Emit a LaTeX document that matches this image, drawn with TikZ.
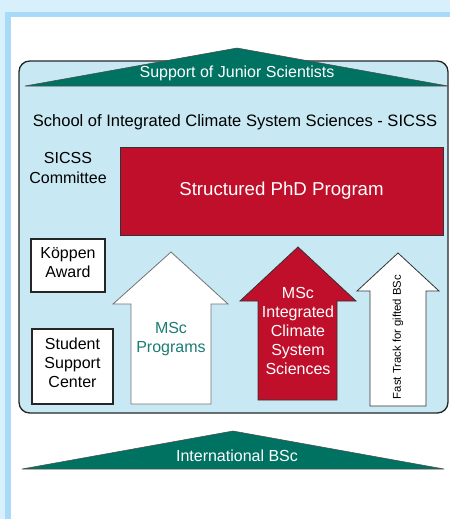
\documentclass[tikz,border=0pt]{standalone}
\usepackage{fontspec}
\setmainfont{Liberation Sans}
\definecolor{slidebg}{HTML}{D8EFFC}
\definecolor{slideedge}{HTML}{A9DBF8}
\definecolor{schoolbg}{HTML}{C8E9F3}
\definecolor{sicssgreen}{HTML}{007262}
\definecolor{sicssred}{HTML}{C00F2B}
\definecolor{msctext}{HTML}{1B7D73}
\begin{document}
\begin{tikzpicture}[x=0.75pt,y=0.75pt]
\tikzstyle{every node}+=[inner sep=0pt, align=center, font=\fontsize{12}{14.3}\selectfont]
\tikzstyle{roof}=[fill=sicssgreen, draw=black!70, line width=0.4pt]
\tikzstyle{infobox}=[draw=black!85, fill=white, line width=0.9pt]
\tikzstyle{whitearrow}=[fill=white, draw=black!55, line width=0.6pt]
\tikzstyle{redarrow}=[fill=sicssred, draw=black!80, line width=0.6pt]
\useasboundingbox (0,0) rectangle (450,-519);
% slide frame
\fill [slidebg] (0,0) rectangle (450,-519);
\fill [slideedge] (5,-12) rectangle (450,-519);
\fill [white] (11,-17) rectangle (450,-519);
% school box
\draw [black!85, line width=1pt, fill=schoolbg, rounded corners=8] (19,-61) rectangle (448,-413);
\draw [roof] (25,-86) -- (237,-48) -- (448,-86) -- cycle;
\node [white] (junior) at (237,-73) {Support of Junior Scientists};
\node [font=\fontsize{12.4}{15}\selectfont] (school) at (235,-122) {School of Integrated Climate System Sciences - SICSS};
\node (committee) at (68,-168) {SICSS\\Committee};
\node [draw=black!80, fill=sicssred, line width=0.6pt, minimum width=242.25pt, minimum height=66pt, text=white, font=\fontsize{14}{17}\selectfont] (phd) at (281.5,-191) {Structured PhD Program};
\node [infobox, minimum width=55.5pt, minimum height=39.75pt] (koeppen) at (68,-265.5) {};
\node (koeppentext) at ([yshift=2.5pt]koeppen.center) {Köppen\\Award};
\node [infobox, minimum width=60.75pt, minimum height=56.25pt] (support) at (72.5,-366.5) {};
\node (supporttext) at ([yshift=3pt]support.center) {Student\\Support\\Center};
% arrows
\draw [whitearrow] (131,-404) -- (131,-304) -- (113,-304) -- (171,-252) -- (228,-304) -- (211,-304) -- (211,-404) -- cycle;
\node [text=msctext] (mscprog) at (171,-339) {MSc\\Programs};
\draw [redarrow] (258,-400) -- (258,-301) -- (240,-301) -- (298,-247) -- (356,-301) -- (337,-301) -- (337,-400) -- cycle;
\node [white] (mscicss) at (298,-331) {MSc\\Integrated\\Climate\\System\\Sciences};
\draw [whitearrow, draw=black!80] (370,-406) -- (370,-291) -- (357,-291) -- (398,-253) -- (439,-291) -- (426,-291) -- (426,-406) -- cycle;
\node [rotate=90, font=\fontsize{8.5}{10}\selectfont] (fasttrack) at (398,-337) {Fast Track for gifted BSc};
% bachelor
\draw [roof] (22,-469) -- (233,-431) -- (444,-469) -- cycle;
\node [white] (bsc) at (237,-456) {International BSc};
\end{tikzpicture}
\end{document}
